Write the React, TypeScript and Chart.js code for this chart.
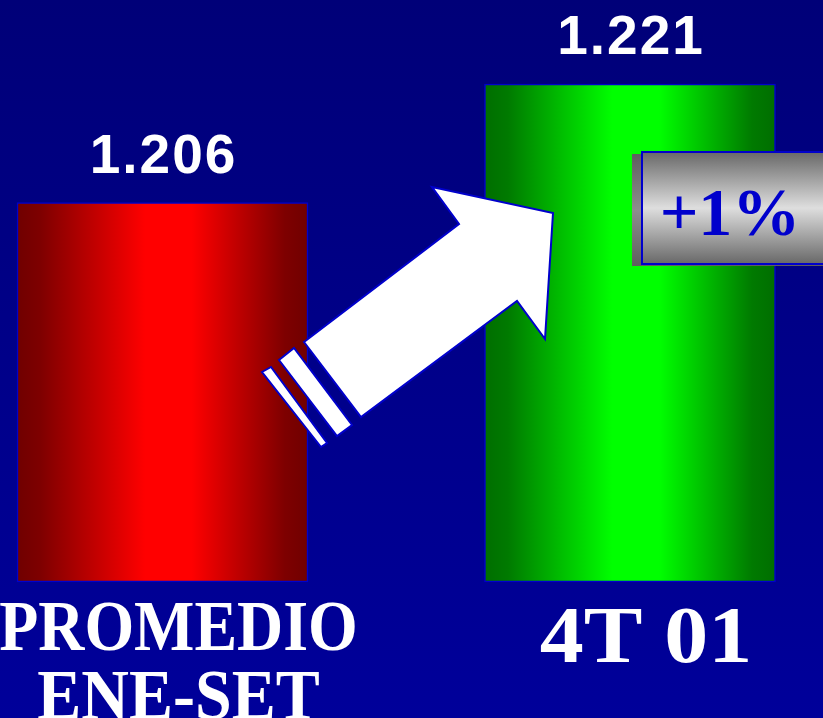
import React, { useEffect, useRef } from "react";
import { Chart, registerables } from "chart.js";

Chart.register(...registerables);

const categories: string[][] = [["PROMEDIO", "ENE-SET"], ["4T 01"]];
const values: number[] = [1.206, 1.221];
const changeLabel = "+1%";
const Y_MIN = 1.158;
const Y_MAX = 1.221;

const W = 823;
const H = 718;
const BAR_W = 291;

const backgroundPlugin = {
  id: "bg",
  beforeDraw(chart: any) {
    const ctx = chart.ctx;
    const g = ctx.createLinearGradient(0, 0, 0, chart.height);
    g.addColorStop(0, "#000078");
    g.addColorStop(1, "#00009A");
    ctx.save();
    ctx.fillStyle = g;
    ctx.fillRect(0, 0, chart.width, chart.height);
    ctx.restore();
  },
};

function poly(ctx: CanvasRenderingContext2D, pts: number[][]) {
  ctx.beginPath();
  ctx.moveTo(pts[0][0], pts[0][1]);
  for (let i = 1; i < pts.length; i++) ctx.lineTo(pts[i][0], pts[i][1]);
  ctx.closePath();
  ctx.fill();
  ctx.stroke();
}

const decoPlugin = {
  id: "deco",
  afterDatasetsDraw(chart: any) {
    const ctx: CanvasRenderingContext2D = chart.ctx;
    const meta = chart.getDatasetMeta(0);
    ctx.save();
    // value labels
    ctx.fillStyle = "#FFFFFF";
    ctx.font = "bold 55px 'Liberation Sans', Arial, sans-serif";
    (ctx as any).letterSpacing = "2px";
    ctx.textAlign = "center";
    ctx.textBaseline = "alphabetic";
    meta.data.forEach((bar: any, i: number) => {
      ctx.fillText(values[i].toFixed(3), bar.x + 1, bar.y - 30);
    });
    (ctx as any).letterSpacing = "0px";

    // arrow
    ctx.fillStyle = "#FFFFFF";
    ctx.strokeStyle = "#0000CC";
    ctx.lineWidth = 2;
    ctx.lineJoin = "miter";
    poly(ctx, [
      [304, 342],
      [459, 224],
      [432, 187],
      [553, 213],
      [545, 339],
      [517, 301],
      [361, 417],
    ]);
    poly(ctx, [
      [279, 360],
      [294, 348],
      [352, 425],
      [337, 436],
    ]);
    poly(ctx, [
      [262, 372],
      [271, 367],
      [327, 443],
      [321, 447],
    ]);

    // badge shadow strip
    const gs = ctx.createLinearGradient(0, 154, 0, 266);
    gs.addColorStop(0, "#5E5E5E");
    gs.addColorStop(0.5, "#8E8E8E");
    gs.addColorStop(1, "#5E5E5E");
    ctx.fillStyle = gs;
    ctx.fillRect(632, 154, 200, 112);
    // badge main
    const gb = ctx.createLinearGradient(0, 152, 0, 264);
    gb.addColorStop(0, "#686868");
    gb.addColorStop(0.5, "#DEDEDE");
    gb.addColorStop(1, "#686868");
    ctx.fillStyle = gb;
    ctx.fillRect(642, 152, 200, 112);
    ctx.strokeStyle = "#0000CC";
    ctx.lineWidth = 2;
    ctx.strokeRect(642, 152, 200, 112);
    ctx.fillStyle = "#0000CC";
    ctx.font = "bold 68px 'Liberation Serif', 'Times New Roman', serif";
    ctx.textAlign = "center";
    ctx.fillText(changeLabel, 730, 235);

    // category labels
    ctx.fillStyle = "#FFFFFF";
    const xs = chart.scales.x;
    categories.forEach((lines, i) => {
      const cx = xs.getPixelForValue(i) + 16;
      const first = i === 0;
      const size = first ? 71 : 80;
      const sx = first ? 0.9 : 1.1;
      const y0 = first ? 650 : 662;
      ctx.font = `bold ${size}px 'Liberation Serif', 'Times New Roman', serif`;
      lines.forEach((t, j) => {
        ctx.save();
        ctx.translate(cx, y0 + j * 69);
        ctx.scale(j === 1 ? 0.93 : sx, 1);
        ctx.textAlign = "center";
        ctx.fillText(t, 0, 0);
        ctx.restore();
      });
    });
    ctx.restore();
  },
};

function barGradient(c: any, dark: string, darker: string, bright: string) {
  const chart = c.chart;
  const xs = chart.scales && chart.scales.x;
  if (!xs || c.dataIndex === undefined) return bright;
  const cx = xs.getPixelForValue(c.dataIndex);
  if (!Number.isFinite(cx)) return bright;
  const g = chart.ctx.createLinearGradient(cx - BAR_W / 2, 0, cx + BAR_W / 2, 0);
  g.addColorStop(0, darker);
  g.addColorStop(0.08, dark);
  g.addColorStop(0.44, bright);
  g.addColorStop(0.6, bright);
  g.addColorStop(0.92, dark);
  g.addColorStop(1, darker);
  return g;
}

export default function App() {
  const ref = useRef<HTMLCanvasElement>(null);
  useEffect(() => {
    document.body.style.margin = "0";
    const canvas = ref.current!;
    const chart = new Chart(canvas, {
      type: "bar",
      data: {
        labels: categories,
        datasets: [
          {
            data: values,
            base: Y_MIN,
            backgroundColor: (c: any) =>
              c.dataIndex === 0
                ? barGradient(c, "#7E0000", "#700000", "#FF0000")
                : barGradient(c, "#007A00", "#006E00", "#00FF00"),
            borderColor: "#0000CC",
            borderWidth: 1.5,
            borderSkipped: false,
            barThickness: BAR_W,
            clip: false as any,
          } as any,
        ],
      },
      options: {
        responsive: false,
        animation: false,
        devicePixelRatio: 1,
        layout: { padding: { left: 162.5, right: 193, top: 84, bottom: 136 } },
        plugins: { legend: { display: false }, tooltip: { enabled: false } },
        scales: {
          x: { display: false, offset: false, grid: { display: false } },
          y: { display: false, min: Y_MIN, max: Y_MAX, grid: { display: false } },
        },
      },
      plugins: [backgroundPlugin, decoPlugin],
    });
    return () => chart.destroy();
  }, []);
  return <canvas ref={ref} width={W} height={H} style={{ display: "block" }} />;
}
